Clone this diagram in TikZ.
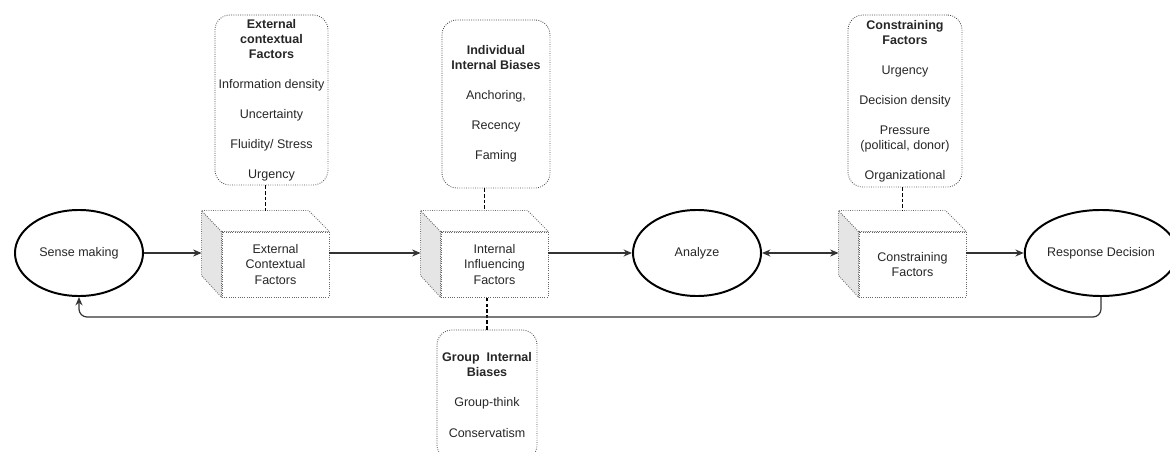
\documentclass[tikz,border=0pt]{standalone}
\usepackage{fontspec}
\setmainfont{Liberation Sans}
\usetikzlibrary{arrows.meta,calc,shapes.geometric}
\tikzset{>={Stealth[length=6pt,width=5pt]}}
\tikzset{
  txt/.style={font=\fontsize{8.9}{10.7}\selectfont, text=black!85, align=center},
  stage/.style={txt, ellipse, draw=black, line width=1.4pt, minimum width=3.2cm, minimum height=2.15cm, inner sep=0pt},
  front/.style={txt, draw=black!60, densely dotted, line width=0.6pt, minimum width=2.675cm, minimum height=1.625cm, inner sep=0pt},
  side/.style={draw=black!60, densely dotted, line width=0.6pt},
  factorbox/.style={txt, draw=black!70, densely dotted, line width=0.6pt, rounded corners=0.375cm, inner sep=0pt},
  flow/.style={->, draw=black!80, line width=0.85pt},
  link/.style={draw=black, line width=0.8pt, dash pattern=on 2.5pt off 1.5pt}
}
\newcommand{\cubefaces}[1]{%
  \coordinate (#1-b) at ($(#1.north west)+(-20,-21)$);
  \coordinate (#1-t) at ($(#1-b)+(63.5,0)$);
  \filldraw[side, fill=gray!20] (#1.north west) -- (#1-b) -- ++(0,65) -- (#1.south west) -- cycle;
  \filldraw[side, fill=white] (#1.north west) -- (#1-b) -- ++(107,0) -- (#1.north east) -- cycle;
}

\begin{document}
\begin{tikzpicture}[x=0.025cm, y=-0.025cm]
        \useasboundingbox (0,0) rectangle (1170,452);
        \clip (0,0) rectangle (1170,452);

        % main stages
        \node[stage] (sense) at (79,253) {Sense making};
        \node[stage] (ana) at (697,253) {Analyze};
        \node[stage] (resp) at (1101,253) {Response Decision};

        % factor cubes
        \node[front] (ecf) at (275.5,264.5) {External\\Contextual\\Factors};
        \cubefaces{ecf}
        \node[front] (iif) at (494.5,264.5) {Internal\\Influencing\\Factors};
        \cubefaces{iif}
        \node[front] (cf) at (912.5,264.5) {Constraining\\Factors};
        \cubefaces{cf}

        % factor lists
        \node[factorbox, minimum width=2.825cm, minimum height=4.25cm] (xcf) at (271.5,100)
          {\textbf{External}\\\textbf{contextual}\\\textbf{Factors}\\[10.7pt]Information density\\[10.7pt]Uncertainty\\[10.7pt]Fluidity/ Stress\\[10.7pt]Urgency};
        \node[factorbox, minimum width=2.7cm, minimum height=4.2cm] (iib) at (496,104)
          {\textbf{Individual}\\\textbf{Internal Biases}\\[10.7pt]Anchoring,\\[10.7pt]Recency\\[10.7pt]Faming};
        \node[factorbox, minimum width=2.85cm, minimum height=4.3cm] (cfb) at (905,101)
          {\textbf{Constraining}\\\textbf{Factors}\\[10.7pt]Urgency\\[10.7pt]Decision density\\[10.7pt]Pressure\\(political, donor)\\[10.7pt]Organizational};
        \node[factorbox, minimum width=2.5cm, minimum height=3.25cm] (gib) at (487,395)
          {\textbf{Group\ \ Internal}\\\textbf{Biases}\\[10.7pt]Group-think\\[10.7pt]Conservatism};

        \draw[link] (xcf.south -| ecf-t) -- (ecf-t);
        \draw[link] (iib.south -| iif-t) -- (iif-t);
        \draw[link] (cfb.south -| cf-t) -- (cf-t);
        \draw[link] (gib.north) -- (gib.north |- iif.south);

        % flow
        \draw[flow] (sense.east) -- (sense.east -| ecf-b);
        \draw[flow] (ecf.east |- sense.east) -- (sense.east -| iif-b);
        \draw[flow] (iif.east |- ana.west) -- (ana.west);
        \draw[flow, <->] (ana.east) -- (ana.east -| cf-b);
        \draw[flow] (cf.east |- resp.west) -- (resp.west);
        \draw[flow, rounded corners=0.2cm] (resp.south) -- ++(0,20) -| (sense.south);
      \end{tikzpicture}
\end{document}
